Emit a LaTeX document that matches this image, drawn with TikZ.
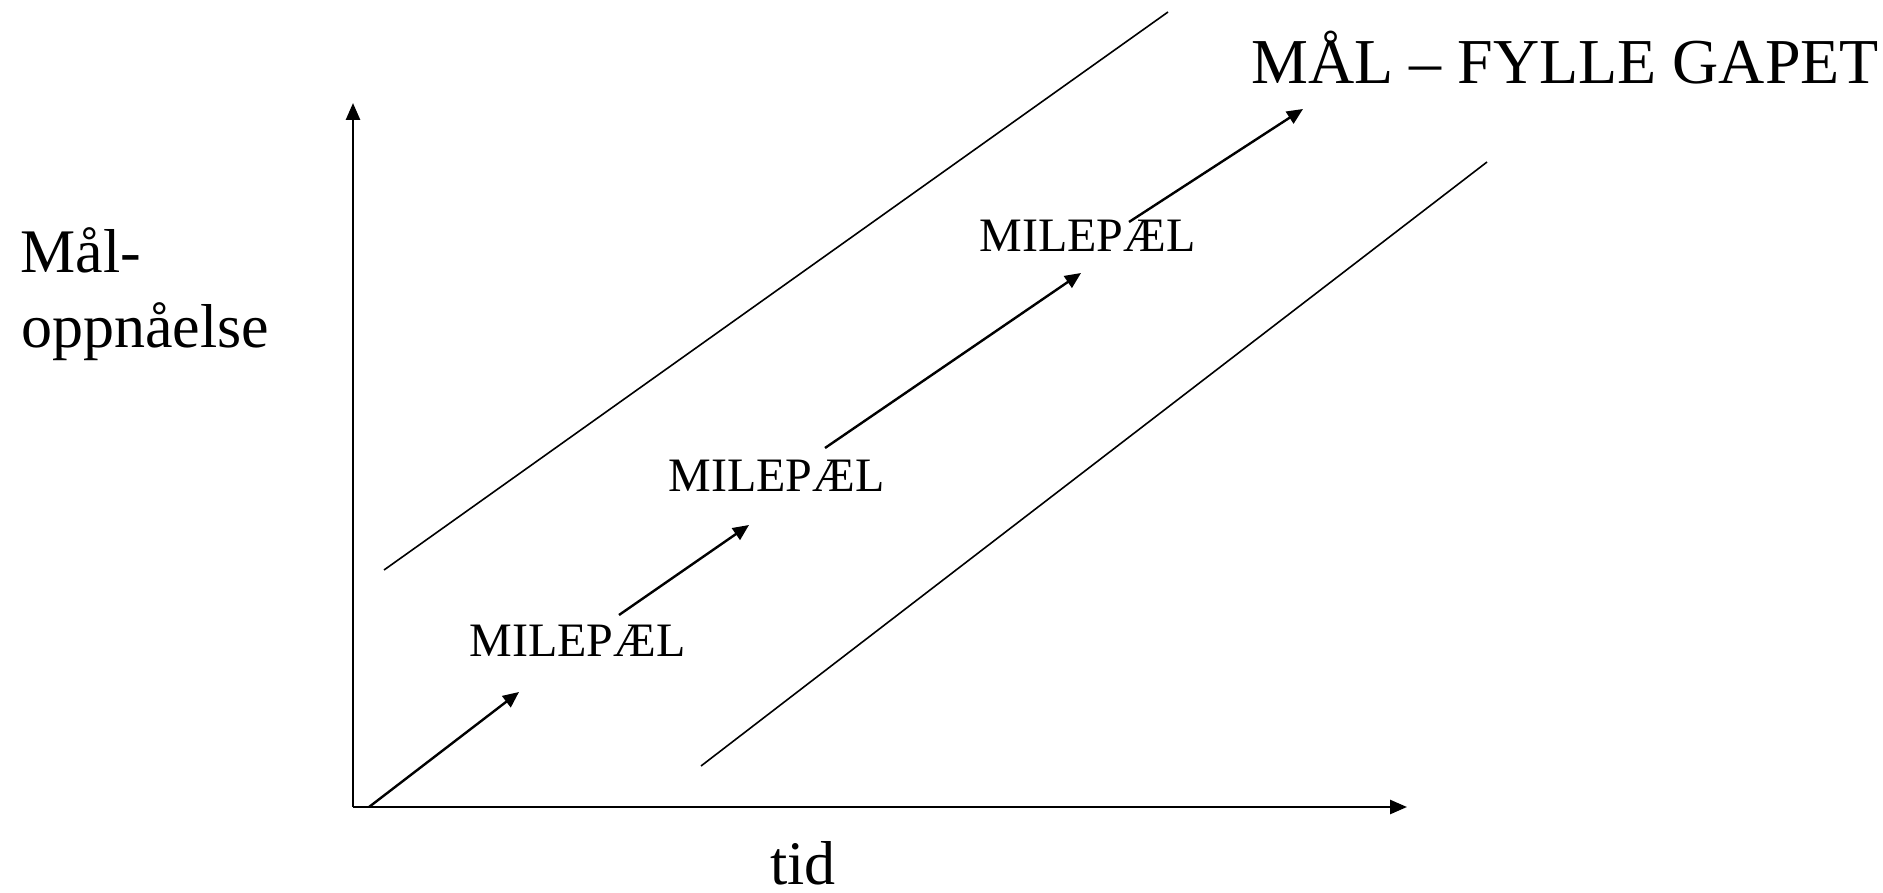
\documentclass[tikz,border=0pt]{standalone}
\usepackage{fontspec}
\setmainfont{Liberation Serif}
\usetikzlibrary{arrows.meta, positioning}

\begin{document}
\begin{tikzpicture}[x=0.5pt, y=-0.5pt, every node/.style={inner sep=0pt, anchor=base west},
    axis/.style={line width=1.3pt, -{Triangle[length=8.5pt, width=7pt]}},
    stage/.style={line width=1.2pt, -{Triangle[length=8pt, width=7pt]}},
    band/.style={line width=0.8pt},
    milestone/.style={font=\fontsize{24}{28}\selectfont}]
            \useasboundingbox (0,0) rectangle (1883,893);
            % axes
            \coordinate (o) at (353,807);
            \coordinate (ytop) at (353,103);
            \coordinate (xend) at (1407,807);
            \draw[axis] (o) -- (ytop);
            \draw[axis] (o) -- (xend);
            % band round the path
            \coordinate (u1) at (384,570);
            \coordinate (u2) at (1168,12);
            \coordinate (l1) at (701,766);
            \coordinate (l2) at (1487,162);
            \draw[band] (u1) -- (u2);
            \draw[band] (l1) -- (l2);
            % steps towards the goal
            \coordinate (s1) at (369,807);  \coordinate (e1) at (519,692);
            \coordinate (s2) at (619,615);  \coordinate (e2) at (749,525);
            \coordinate (s3) at (825,448);  \coordinate (e3) at (1081,273);
            \coordinate (s4) at (1129,222); \coordinate (e4) at (1303,109);
            \foreach \i in {1,...,4} {
                \draw[stage] (s\i) -- (e\i);
            }
            % labels
            \node[milestone] (m1) at (469,656) {MILEPÆL};
            \node[milestone] (m2) at (668,491) {MILEPÆL};
            \node[milestone] (m3) at (979,251) {MILEPÆL};
            \node[font=\fontsize{32}{36}\selectfont] (goal) at (1251,84) {MÅL – FYLLE GAPET};
            \node[font=\fontsize{31}{34}\selectfont] (ylab1) at (20,272) {Mål-};
            \node[font=\fontsize{31}{34}\selectfont] (ylab2) at (21,347) {oppnåelse};
            \node[font=\fontsize{31}{34}\selectfont] (xlab) at (770,884) {tid};
        \end{tikzpicture}
\end{document}
